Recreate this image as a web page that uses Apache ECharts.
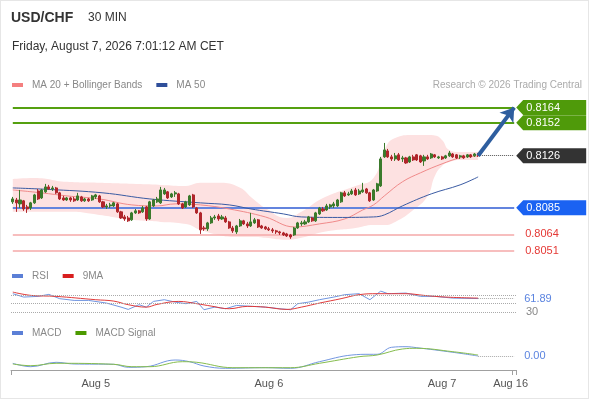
<!DOCTYPE html>
<html>
<head>
<meta charset="utf-8">
<script src="https://cdn.jsdelivr.net/npm/echarts@6/dist/echarts.min.js"></script>
<style>
  html, body { margin: 0; padding: 0; background: #fff; }
  #chart { position: absolute; left: 0; top: 0; width: 590px; height: 400px; }
  #frame { position: absolute; left: 0; top: 0; width: 587px; height: 397px; border: 1px solid #e6e6e6; pointer-events: none; }
</style>
</head>
<body>
<div id="chart"></div>
<div id="frame"></div>
<script>
// ---------- DATA ----------
const tickIdx = [23, 71, 119, 138];
const tickText = ['Aug 5', 'Aug 6', 'Aug 7', 'Aug 16'];

const openP = [0.80896,0.80911,0.80880,0.80904,0.80856,0.80848,0.80888,0.80982,0.80927,0.80975,
0.81014,0.80998,0.81006,0.80967,0.80927,0.80911,0.80927,0.80919,0.80911,0.80935,
0.80904,0.80919,0.80911,0.80935,0.80943,0.80896,0.80856,0.80864,0.80864,0.80880,
0.80817,0.80777,0.80769,0.80754,0.80809,0.80825,0.80817,0.80856,0.80761,0.80864,
0.80896,0.80888,0.80959,0.80975,0.80935,0.80959,0.80959,0.80880,0.80856,0.80872,
0.80951,0.80848,0.80809,0.80690,0.80683,0.80730,0.80769,0.80785,0.80761,0.80769,
0.80738,0.80690,0.80659,0.80706,0.80746,0.80722,0.80706,0.80730,0.80754,0.80706,
0.80698,0.80683,0.80675,0.80667,0.80659,0.80651,0.80643,0.80635,0.80635,0.80690,
0.80722,0.80722,0.80738,0.80769,0.80746,0.80801,0.80840,0.80832,0.80856,0.80864,
0.80864,0.80896,0.80967,0.80951,0.80959,0.80990,0.80959,0.80975,0.80998,0.80967,
0.80911,0.80982,0.81022,0.81251,0.81298,0.81251,0.81235,0.81267,0.81235,0.81243,
0.81211,0.81251,0.81267,0.81259,0.81219,0.81251,0.81243,0.81267,0.81243,0.81251,
0.81243,0.81259,0.81274,0.81267,0.81251,0.81259,0.81251,0.81267,0.81259,0.81274];

const closeP = [0.80919,0.80888,0.80911,0.80840,0.80840,0.80888,0.80951,0.80919,0.80990,0.81014,
0.80998,0.81006,0.80967,0.80919,0.80911,0.80927,0.80911,0.80904,0.80943,0.80904,
0.80919,0.80904,0.80943,0.80951,0.80896,0.80856,0.80864,0.80872,0.80888,0.80817,
0.80769,0.80761,0.80746,0.80809,0.80825,0.80809,0.80848,0.80761,0.80896,0.80911,
0.80919,0.80990,0.80990,0.80927,0.80959,0.80967,0.80880,0.80848,0.80896,0.80943,
0.80856,0.80809,0.80675,0.80683,0.80730,0.80769,0.80777,0.80761,0.80777,0.80738,
0.80690,0.80667,0.80706,0.80746,0.80722,0.80706,0.80738,0.80754,0.80698,0.80690,
0.80683,0.80675,0.80667,0.80659,0.80651,0.80635,0.80627,0.80619,0.80690,0.80730,
0.80730,0.80738,0.80777,0.80746,0.80809,0.80848,0.80825,0.80864,0.80872,0.80880,
0.80911,0.80967,0.80943,0.80959,0.80982,0.80951,0.80982,0.80990,0.80967,0.80904,
0.80990,0.81038,0.81235,0.81306,0.81251,0.81235,0.81259,0.81227,0.81243,0.81203,
0.81251,0.81227,0.81227,0.81211,0.81251,0.81235,0.81274,0.81251,0.81251,0.81235,
0.81259,0.81282,0.81251,0.81243,0.81259,0.81243,0.81267,0.81251,0.81274,0.81260];

const highP = [0.80935,0.80927,0.80990,0.80911,0.80872,0.80896,0.80959,0.80998,0.80998,0.81038,
0.81030,0.81022,0.81014,0.80975,0.80943,0.80935,0.80935,0.80935,0.80967,0.80943,
0.80927,0.80927,0.80951,0.80959,0.80951,0.80904,0.80880,0.80888,0.80896,0.80888,
0.80825,0.80793,0.80785,0.80817,0.80840,0.80832,0.80864,0.80864,0.80904,0.80919,
0.80935,0.81014,0.81006,0.80982,0.80967,0.80982,0.80967,0.80888,0.80904,0.80951,
0.80959,0.80856,0.80817,0.80706,0.80738,0.80785,0.80793,0.80801,0.80793,0.80785,
0.80746,0.80706,0.80714,0.80761,0.80754,0.80738,0.80809,0.80769,0.80761,0.80714,
0.80706,0.80698,0.80690,0.80675,0.80667,0.80659,0.80651,0.80643,0.80698,0.80738,
0.80746,0.80754,0.80785,0.80777,0.80817,0.80856,0.80856,0.80880,0.80880,0.80896,
0.80919,0.80975,0.80982,0.80975,0.80998,0.81006,0.80998,0.81046,0.81006,0.80975,
0.80998,0.81046,0.81251,0.81361,0.81314,0.81267,0.81282,0.81282,0.81259,0.81251,
0.81259,0.81267,0.81274,0.81267,0.81267,0.81267,0.81282,0.81274,0.81259,0.81259,
0.81267,0.81298,0.81282,0.81274,0.81267,0.81267,0.81274,0.81274,0.81282,0.81282];

const lowP = [0.80880,0.80817,0.80848,0.80825,0.80809,0.80832,0.80880,0.80911,0.80919,0.80967,
0.80990,0.80982,0.80959,0.80911,0.80904,0.80904,0.80896,0.80896,0.80904,0.80896,
0.80896,0.80896,0.80904,0.80919,0.80888,0.80848,0.80840,0.80848,0.80856,0.80809,
0.80761,0.80746,0.80738,0.80746,0.80801,0.80801,0.80809,0.80746,0.80754,0.80856,
0.80888,0.80880,0.80951,0.80919,0.80927,0.80935,0.80872,0.80840,0.80848,0.80864,
0.80848,0.80801,0.80643,0.80667,0.80667,0.80722,0.80754,0.80746,0.80754,0.80730,
0.80683,0.80651,0.80643,0.80698,0.80714,0.80690,0.80698,0.80722,0.80690,0.80683,
0.80675,0.80667,0.80651,0.80643,0.80635,0.80627,0.80619,0.80604,0.80627,0.80683,
0.80706,0.80714,0.80730,0.80738,0.80738,0.80793,0.80817,0.80825,0.80840,0.80848,
0.80856,0.80888,0.80935,0.80943,0.80951,0.80943,0.80951,0.80967,0.80959,0.80896,
0.80904,0.80975,0.81014,0.81243,0.81243,0.81219,0.81219,0.81219,0.81211,0.81196,
0.81203,0.81219,0.81219,0.81203,0.81180,0.81227,0.81235,0.81243,0.81235,0.81227,
0.81235,0.81251,0.81243,0.81235,0.81235,0.81235,0.81243,0.81243,0.81251,0.81251];

const ma20Idx = [0,8,15,24,33,40,45,52,60,70,78,85,92,97,100,103,108,113,119,124,129];
const ma20Val = [0.80990,0.80967,0.80943,0.80919,0.80872,0.80864,0.80880,0.80872,0.80840,0.80777,0.80698,0.80722,0.80761,0.80832,0.80872,0.80943,0.81054,0.81125,0.81196,0.81243,0.81259];

const ma50Idx = [0,10,25,38,52,60,66,75,80,90,100,103,108,116,124,129];
const ma50Val = [0.81006,0.80994,0.80967,0.80919,0.80888,0.80872,0.80840,0.80801,0.80777,0.80773,0.80777,0.80793,0.80864,0.80959,0.81030,0.81093];

const bbIdx = [0,6,15,24,33,41,48,52,57,62,67,70,76,80,86,95,100,103,106,111,115,117,119,121,124,129];
const bbUpper = [0.81077,0.81085,0.81054,0.81046,0.81038,0.81030,0.81022,0.81046,0.81046,0.81022,0.80911,0.80848,0.80769,0.80817,0.80927,0.81022,0.81085,0.81306,0.81401,0.81424,0.81424,0.81420,0.81385,0.81306,0.81290,0.81290];
const bbLower = [0.80817,0.80817,0.80817,0.80793,0.80754,0.80738,0.80722,0.80675,0.80635,0.80619,0.80619,0.80612,0.80596,0.80612,0.80659,0.80690,0.80714,0.80714,0.80738,0.80832,0.80943,0.81101,0.81180,0.81211,0.81227,0.81227];

const rsiIdx = [0,3,7,10,13,17,21,26,30,32,35,37,39,42,45,48,51,53,56,59,62,65,70,74,77,79,82,85,89,92,96,99,102,104,109,113,117,122,129];
const rsiVal = [73.1,65.3,66.9,71.5,61.6,57.6,57.6,51.4,42.1,36.8,47.7,42.1,55.3,59.2,53.7,50,55.3,36.1,42.1,38.4,46,44.5,42.1,38.4,36.1,50,53.7,59.2,65.3,70.8,73.1,59.2,79.1,73.1,74.5,66.9,66.9,62.9,61.89];

const rsiMaIdx = [0,5,12,23,28,32,37,40,46,51,55,60,65,70,76,80,85,91,96,101,109,114,120,129];
const rsiMaVal = [76.8,69.2,66.9,59.2,56.0,47.7,42.1,48.4,55.3,50,44.5,38.4,43.8,42.1,36.8,42.1,51.4,61.6,70.8,73.1,73.1,69.2,65.3,62.9];

const macdIdx = [0,5,12,17,28,32,37,45,49,53,59,70,77,85,94,99,101,105,109,112,122,129];
const macdVal = [-0.00033,-0.00067,-0.00023,-0.0004,-0.00043,-0.00073,-0.00067,0.0,-0.00017,-0.0006,-0.00083,-0.00077,-0.00083,-0.00017,0.0005,0.00057,0.00057,0.00127,0.00133,0.00123,0.00077,0.0004];

const sigIdx = [0,5,12,28,33,38,47,51,61,77,85,96,101,108,112,122,129];
const sigVal = [-0.0004,-0.00057,-0.00033,-0.00043,-0.00067,-0.00067,-0.00017,-0.00023,-0.00077,-0.00077,-0.00033,0.00033,0.0005,0.0011,0.00117,0.00083,0.0005];

const resistance = [0.8164, 0.8152];
const lastPrice = 0.8126;
const pivot = 0.8085;
const support = [0.8064, 0.8051];
const rsiLast = 61.89;
const macdLast = 0.0004;

// ---------- BUILD ----------
const NCAT = 140;
const cats = [];
const t0 = Date.UTC(2026, 7, 4, 12, 30);
for (let i = 0; i < NCAT; i++) {
  const d = new Date(t0 + i * 1800000);
  cats.push(d.toISOString().slice(0, 16));
}
const lastI = openP.length - 1;
const endI = NCAT - 1;
const pairs = (idx, val) => idx.map((k, j) => [k, val[j]]);
const candles = openP.map((o, i) => [o, closeP[i], lowP[i], highP[i]]);
const bandDiff = bbIdx.map((k, j) => [k, +(bbUpper[j] - bbLower[j]).toFixed(6)]);

const FONT = '"Liberation Sans", Arial, sans-serif';
const GL = 11, GR = 74;

function xAx(gi, show) {
  const ax = {
    type: 'category', gridIndex: gi, data: cats, boundaryGap: true,
    axisLine: { show: false, onZero: false }, axisTick: { show: false }, axisLabel: { show: false },
    splitLine: { show: false }
  };
  if (show) {
    ax.axisLine = { show: true, onZero: false, lineStyle: { color: '#a0a0a0', width: 1 } };
    ax.axisTick = { show: true, length: 5, lineStyle: { color: '#a0a0a0' },
      interval: (i) => i === 0 || i === endI };
    ax.axisLabel = {
      show: true, color: '#555', fontSize: 11, fontFamily: FONT, margin: 8,
      interval: (i) => tickIdx.indexOf(i) >= 0,
      formatter: (v, i) => { const k = tickIdx.indexOf(i); return k >= 0 ? tickText[k] : ''; }
    };
  }
  return ax;
}

function boxPoint(v, color, txt) {
  return {
    coord: [endI, v], value: txt,
    symbol: 'path://M0,7.5L7,0L70,0L70,15L7,15Z', symbolSize: [70, 15], symbolOffset: [37, 0],
    itemStyle: { color: color },
    label: { show: true, position: 'inside', color: '#fff', fontSize: 11, fontFamily: FONT,
      offset: [-8, 0], formatter: txt }
  };
}

// full-width horizontal level drawn through the category axis
function level(v, style, label) {
  return [
    { coord: [0, v], lineStyle: style, label: label || { show: false } },
    { coord: [endI, v] }
  ];
}

const dotted = { type: 'dotted', color: '#aaa', width: 1 };
const redLabel = (v) => ({ show: true, position: 'end', distance: 11, color: '#e53935', fontSize: 11, fontFamily: FONT, formatter: v.toFixed(4) });
const greenStyle = { color: '#55a010', width: 2, type: 'solid' };
const redStyle = { color: '#f5a8a8', width: 1.5, type: 'solid' };

const option = {
  animation: false,
  backgroundColor: '#fff',
  textStyle: { fontFamily: FONT },
  title: [
    { text: 'USD/CHF', left: 11, top: 11, padding: 0, textStyle: { fontSize: 14, fontWeight: 'bold', color: '#333', fontFamily: FONT } },
    { text: '30 MIN', left: 88, top: 12, padding: 0, textStyle: { fontSize: 12, fontWeight: 'normal', color: '#333', fontFamily: FONT } },
    { text: 'Friday, August 7, 2026 7:01:12 AM CET', left: 12, top: 41, padding: 0, textStyle: { fontSize: 12, fontWeight: 'normal', color: '#333', fontFamily: FONT } },
    { text: 'Research \u00a9 2026 Trading Central', right: 8, top: 80, padding: 0, textStyle: { fontSize: 10, fontWeight: 'normal', color: '#aaa', fontFamily: FONT } }
  ],
  legend: [
    { data: ['MA 20 + Bollinger Bands', 'MA 50'], left: 12, top: 80, padding: 0, itemGap: 14, itemWidth: 11, itemHeight: 4,
      icon: 'rect', selectedMode: false, textStyle: { fontSize: 10, color: '#888', fontFamily: FONT, padding: [0, 0, 0, 4] } },
    { data: ['RSI', '9MA'], left: 12, top: 271, padding: 0, itemGap: 14, itemWidth: 11, itemHeight: 4,
      icon: 'rect', selectedMode: false, textStyle: { fontSize: 10, color: '#888', fontFamily: FONT, padding: [0, 0, 0, 4] } },
    { data: ['MACD', 'MACD Signal'], left: 12, top: 328, padding: 0, itemGap: 14, itemWidth: 11, itemHeight: 4,
      icon: 'rect', selectedMode: false, textStyle: { fontSize: 10, color: '#888', fontFamily: FONT, padding: [0, 0, 0, 4] } }
  ],
  grid: [
    { left: GL, right: GR, top: 100, height: 164.7 },
    { left: GL, right: GR, top: 290.7, height: 26 },
    { left: GL, right: GR, top: 340, height: 30 }
  ],
  xAxis: [xAx(0, false), xAx(1, false), xAx(2, true)],
  yAxis: [
    { type: 'value', gridIndex: 0, min: 0.8040, max: 0.8170, show: false, splitLine: { show: false } },
    { type: 'value', gridIndex: 1, min: 20, max: 80, show: false, splitLine: { show: false } },
    { type: 'value', gridIndex: 2, min: -0.001, max: 0.002, show: false, splitLine: { show: false } }
  ],
  series: [
    { name: 'bbLow', type: 'line', xAxisIndex: 0, yAxisIndex: 0, stack: 'bb', data: pairs(bbIdx, bbLower),
      smooth: 0.5, symbol: 'none', silent: true, lineStyle: { opacity: 0 }, z: 1 },
    { name: 'bbBand', type: 'line', xAxisIndex: 0, yAxisIndex: 0, stack: 'bb', data: bandDiff,
      smooth: 0.5, symbol: 'none', silent: true, lineStyle: { opacity: 0 },
      areaStyle: { color: '#fde1e1', opacity: 1 }, z: 1 },
    { name: 'MA 20 + Bollinger Bands', type: 'line', xAxisIndex: 0, yAxisIndex: 0, data: pairs(ma20Idx, ma20Val),
      smooth: 0.4, symbol: 'none', itemStyle: { color: '#f47f7f' }, lineStyle: { color: '#f08a8a', width: 1 }, z: 3,
      markLine: {
        silent: true, symbol: ['none', 'none'], label: { show: false }, z: 2,
        data: [
          level(resistance[0], greenStyle),
          level(resistance[1], greenStyle),
          level(pivot, { color: '#6384de', width: 2, type: 'solid' }),
          level(support[0], redStyle, redLabel(support[0])),
          level(support[1], redStyle, redLabel(support[1]))
        ]
      }
    },
    { name: 'MA 50', type: 'line', xAxisIndex: 0, yAxisIndex: 0, data: pairs(ma50Idx, ma50Val),
      smooth: 0.4, symbol: 'none', itemStyle: { color: '#2f4f9a' }, lineStyle: { color: '#3a5ba3', width: 1 }, z: 3,
      markLine: {
        silent: true, symbol: ['none', 'arrow'], symbolSize: 13,
        label: { show: false },
        lineStyle: { color: '#2e5e9f', width: 4, type: 'solid' },
        data: [[{ coord: [lastI, lastPrice] }, { coord: [endI, resistance[0]] }]],
        z: 6
      }
    },
    { name: 'USD/CHF', type: 'candlestick', xAxisIndex: 0, yAxisIndex: 0, data: candles, barWidth: 2.6, z: 4,
      itemStyle: { color: '#3b7a2c', color0: '#b0262b', borderColor: '#3b7a2c', borderColor0: '#b0262b', borderWidth: 1 },
      markLine: {
        silent: true, symbol: ['none', 'none'],
        label: { show: false },
        data: [
          [{ coord: [lastI, lastPrice], lineStyle: { type: 'dotted', color: '#555', width: 1 } }, { coord: [endI, lastPrice] }]
        ]
      },
      markPoint: {
        silent: true,
        data: [
          boxPoint(resistance[0], '#4f9a0a', resistance[0].toFixed(4)),
          boxPoint(resistance[1], '#4f9a0a', resistance[1].toFixed(4)),
          boxPoint(lastPrice, '#333333', lastPrice.toFixed(4)),
          boxPoint(pivot, '#1a62f2', pivot.toFixed(4))
        ]
      }
    },
    { name: 'RSI', type: 'line', xAxisIndex: 1, yAxisIndex: 1, data: pairs(rsiIdx, rsiVal),
      symbol: 'none', itemStyle: { color: '#5b7fd6' }, lineStyle: { color: '#7095e0', width: 1 }, z: 3,
      markLine: {
        silent: true, symbol: ['none', 'none'], label: { show: false }, lineStyle: dotted,
        data: [
          { yAxis: 70 }, { yAxis: 50 },
          { yAxis: 30, label: { show: true, position: 'end', distance: 10, color: '#888', fontSize: 11, fontFamily: FONT, formatter: '30' } },
          [{ coord: [lastI, rsiLast], label: { show: true, position: 'end', distance: 10, color: '#5b84e0', fontSize: 11, fontFamily: FONT,
              backgroundColor: '#fff', formatter: rsiLast.toFixed(2) } }, { coord: [endI, rsiLast] }]
        ]
      }
    },
    { name: '9MA', type: 'line', xAxisIndex: 1, yAxisIndex: 1, data: pairs(rsiMaIdx, rsiMaVal),
      smooth: 0.4, symbol: 'none', itemStyle: { color: '#d81e1e' }, lineStyle: { color: '#e03a3a', width: 1 }, z: 3 },
    { name: 'MACD', type: 'line', xAxisIndex: 2, yAxisIndex: 2, data: pairs(macdIdx, macdVal),
      smooth: 0.4, symbol: 'none', itemStyle: { color: '#5b7fd6' }, lineStyle: { color: '#7397e0', width: 1 }, z: 3,
      markLine: {
        silent: true, symbol: ['none', 'none'], label: { show: false }, lineStyle: dotted,
        data: [
          [{ coord: [lastI, macdLast], label: { show: true, position: 'end', distance: 10, color: '#5b84e0', fontSize: 11, fontFamily: FONT,
              formatter: macdLast.toFixed(2) } }, { coord: [endI, macdLast] }]
        ]
      }
    },
    { name: 'MACD Signal', type: 'line', xAxisIndex: 2, yAxisIndex: 2, data: pairs(sigIdx, sigVal),
      smooth: 0.4, symbol: 'none', itemStyle: { color: '#4c9a00' }, lineStyle: { color: '#86bd4e', width: 1 }, z: 3 }
  ]
};

const chart = echarts.init(document.getElementById('chart'), null, { renderer: 'canvas' });
chart.setOption(option);
</script>
</body>
</html>
